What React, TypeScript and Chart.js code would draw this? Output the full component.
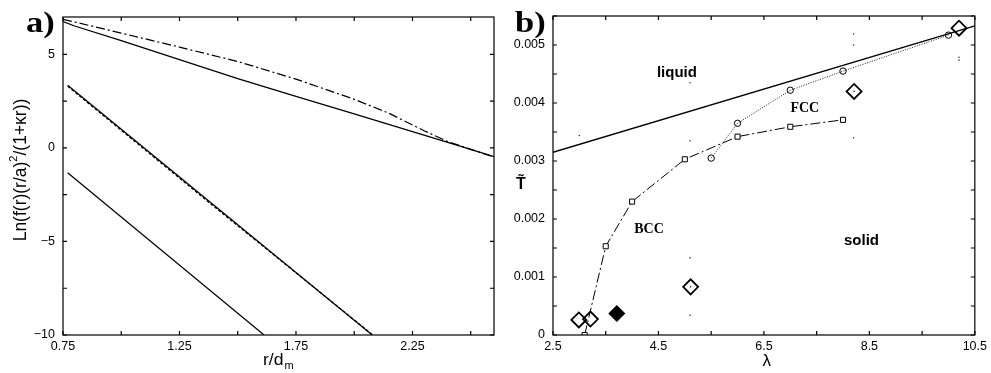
import React, { useEffect, useRef } from 'react';
import { Chart, registerables } from 'chart.js';
Chart.register(...registerables);

// ---------- Panel a data ----------
const aUpperSolidR = [0.75, 0.8, 1.0, 1.25, 1.5, 1.75, 2.0, 2.25, 2.5, 2.6];
const aUpperSolidY = [6.75, 6.52, 5.74, 4.72, 3.71, 2.76, 1.82, 0.87, -0.08, -0.46];
const aDashDotR = [0.75, 1.0, 1.25, 1.5, 1.75, 2.0, 2.15, 2.3, 2.4, 2.5, 2.6];
const aDashDotY = [6.88, 6.14, 5.39, 4.62, 3.68, 2.6, 1.85, 0.92, 0.35, -0.08, -0.48];
const aMidR = [0.77, 2.077];
const aMidY = [3.35, -10];
const aMidDashR = [0.77, 1.4, 2.08];
const aMidDashY = [3.3, -3.15, -10];
const aLowR = [0.77, 1.613];
const aLowY = [-1.33, -10];

// ---------- Panel b data ----------
const meltLam = [2.5, 10.5];
const meltT = [0.00315, 0.00533];
const bccLam = [3.1, 3.5, 4.0, 5.0, 6.0, 7.0, 8.0];
const bccT = [0, 0.00153, 0.0023, 0.00303, 0.00342, 0.00359, 0.00371];
const fccLam = [5.5, 6.0, 7.0, 8.0, 10.0];
const fccT = [0.00305, 0.00365, 0.00422, 0.00455, 0.00517];
const openDiaLam = [2.99, 3.21, 5.11, 8.21, 10.2];
const openDiaT = [0.00026, 0.000275, 0.00083, 0.0042, 0.00529];
const filledDiaLam = [3.71];
const filledDiaT = [0.00037];
const dotLam = [3.0, 5.1, 5.1, 5.1, 5.1, 5.11, 8.2, 8.2, 8.2, 8.21, 10.2, 10.2];
const dotT = [0.00344, 0.00435, 0.00335, 0.00133, 0.00034, 0.00083, 0.00519, 0.005, 0.0034, 0.0042, 0.00479, 0.00474];

// tick labels
const aXLabels = ['0.75', '1.25', '1.75', '2.25'];
const aYLabels = ['\u221210', '\u22125', '0', '5'];
const bXLabels = ['2.5', '4.5', '6.5', '8.5', '10.5'];
const bYLabels = ['0', '0.001', '0.002', '0.003', '0.004', '0.005'];

const zip = (xs: number[], ys: number[]) => xs.map((x, i) => ({ x, y: ys[i] }));

const SANS = '"Liberation Sans", Arial, Helvetica, sans-serif';
const SERIF = '"Liberation Serif", "Times New Roman", serif';

const framePlugin = {
  id: 'frame',
  afterDatasetsDraw(chart: any) {
    const { ctx, chartArea: a, scales } = chart;
    const L = 4;
    ctx.save();
    ctx.strokeStyle = '#000';
    ctx.lineWidth = 1.2;
    ctx.strokeRect(a.left, a.top, a.right - a.left, a.bottom - a.top);
    ctx.beginPath();
    scales.x.ticks.forEach((t: any) => {
      const p = scales.x.getPixelForValue(t.value);
      ctx.moveTo(p, a.bottom); ctx.lineTo(p, a.bottom - L);
      ctx.moveTo(p, a.top); ctx.lineTo(p, a.top + L);
    });
    scales.y.ticks.forEach((t: any) => {
      const p = scales.y.getPixelForValue(t.value);
      ctx.moveTo(a.left, p); ctx.lineTo(a.left + L, p);
      ctx.moveTo(a.right, p); ctx.lineTo(a.right - L, p);
    });
    ctx.stroke();
    ctx.restore();
  },
};

type Txt = { t: string; x: number; y: number; font: string; align?: CanvasTextAlign; sx?: number; data?: boolean; rot?: number };

const textPlugin = (items: Txt[], extra?: (ctx: CanvasRenderingContext2D, chart: any) => void) => ({
  id: 'texts',
  afterDraw(chart: any) {
    const { ctx, scales } = chart;
    ctx.save();
    ctx.fillStyle = '#000';
    ctx.textBaseline = 'alphabetic';
    items.forEach((it) => {
      let x = it.x, y = it.y;
      if (it.data) { x = scales.x.getPixelForValue(it.x); y = scales.y.getPixelForValue(it.y); }
      ctx.save();
      ctx.font = it.font;
      ctx.textAlign = it.align || 'left';
      ctx.translate(x, y);
      if (it.rot) ctx.rotate(it.rot);
      ctx.scale(it.sx || 1, 1);
      ctx.fillText(it.t, 0, 0);
      ctx.restore();
    });
    if (extra) extra(ctx, chart);
    ctx.restore();
  },
});

const labelFrom = (labels: string[], vals: number[]) => (v: number) => {
  for (let i = 0; i < vals.length; i++) if (Math.abs(v - vals[i]) < 1e-9) return labels[i];
  return '';
};

function PanelA() {
  const ref = useRef<HTMLCanvasElement>(null);
  useEffect(() => {
    const line = (d: any[], dash: number[] = []) => ({
      data: d, showLine: true, borderColor: '#000', borderWidth: 1.25, borderDash: dash,
      pointRadius: 0, tension: 0, fill: false,
    });
    const chart = new Chart(ref.current!, {
      type: 'scatter',
      data: {
        datasets: [
          line(zip(aDashDotR, aDashDotY), [9, 3, 2, 3]),
          line(zip(aUpperSolidR, aUpperSolidY)),
          line(zip(aMidR, aMidY)),
          line(zip(aMidDashR, aMidDashY), [3, 2]),
          line(zip(aLowR, aLowY)),
        ],
      },
      options: {
        animation: false, responsive: false, events: [],
        layout: { padding: { top: 17, right: 2, left: 0, bottom: 0 } },
        plugins: { legend: { display: false }, tooltip: { enabled: false } },
        scales: {
          x: {
            type: 'linear', min: 0.75, max: 2.6,
            grid: { display: false, drawTicks: false }, border: { display: false },
            ticks: { stepSize: 0.25, includeBounds: false, autoSkip: false, maxRotation: 0, padding: 4, color: '#000',
              font: { family: SANS, size: 12.5 }, callback: labelFrom(aXLabels, [0.75, 1.25, 1.75, 2.25]) as any },
            afterFit: (s: any) => { s.height = 38; },
          },
          y: {
            type: 'linear', min: -10, max: 7,
            grid: { display: false, drawTicks: false }, border: { display: false },
            ticks: { stepSize: 2.5, includeBounds: false, autoSkip: false, padding: 8, color: '#000',
              font: { family: SANS, size: 12.5 }, callback: labelFrom(aYLabels, [-10, -5, 0, 5]) as any },
            afterFit: (s: any) => { s.width = 63; },
          },
        },
      },
      plugins: [
        framePlugin,
        textPlugin(
          [
            { t: 'a)', x: 26, y: 32, font: `bold 30px ${SERIF}`, sx: 1.15 },
            { t: 'r/d', x: 263, y: 365, font: `16px ${SANS}`, sx: 1.1 },
            { t: 'm', x: 284.5, y: 369, font: `10px ${SANS}`, sx: 1.1 },
          ],
          (ctx) => {
            // rotated y title with superscript
            ctx.save();
            ctx.translate(26, 170);
            ctx.rotate(-Math.PI / 2);
            const p1 = 'Ln(f(r)(r/a)';
            const p2 = '2';
            const p3 = '/(1+\u03BAr))';
            const f1 = `17.5px ${SANS}`, f2 = `11px ${SANS}`;
            ctx.font = f1; const w1 = ctx.measureText(p1).width; const w3 = ctx.measureText(p3).width;
            ctx.font = f2; const w2 = ctx.measureText(p2).width;
            const tot = w1 + w2 + w3;
            let x0 = -tot / 2;
            ctx.textAlign = 'left';
            ctx.font = f1; ctx.fillText(p1, x0, 0); x0 += w1;
            ctx.font = f2; ctx.fillText(p2, x0, -9); x0 += w2;
            ctx.font = f1; ctx.fillText(p3, x0, 0);
            ctx.restore();
          }
        ),
      ],
    } as any);
    return () => chart.destroy();
  }, []);
  return <canvas ref={ref} width={496} height={373} style={{ position: 'absolute', left: 0, top: 0, width: 496, height: 373 }} />;
}

function PanelB() {
  const ref = useRef<HTMLCanvasElement>(null);
  useEffect(() => {
    const chart = new Chart(ref.current!, {
      type: 'scatter',
      data: {
        datasets: [
          { data: zip(meltLam, meltT), showLine: true, borderColor: '#000', borderWidth: 1.3, pointRadius: 0 },
          { data: zip(bccLam, bccT), showLine: true, borderColor: '#000', borderWidth: 1, borderDash: [10, 3, 2, 3],
            pointStyle: 'rect', pointRadius: 3.6, pointBorderWidth: 1, pointBorderColor: '#000', pointBackgroundColor: '#fff' },
          { data: zip(fccLam, fccT), showLine: true, borderColor: '#000', borderWidth: 0.9, borderDash: [1, 1.5],
            pointStyle: 'circle', pointRadius: 3.2, pointBorderWidth: 1, pointBorderColor: '#000', pointBackgroundColor: 'rgba(255,255,255,0)' },
          { data: zip(openDiaLam, openDiaT), showLine: false, pointStyle: 'rectRot', pointRadius: 7.5,
            pointBorderWidth: 1.8, pointBorderColor: '#000', pointBackgroundColor: 'rgba(255,255,255,0)' },
          { data: zip(filledDiaLam, filledDiaT), showLine: false, pointStyle: 'rectRot', pointRadius: 7.5,
            pointBorderWidth: 1.5, pointBorderColor: '#000', pointBackgroundColor: '#000' },
          { data: zip(dotLam, dotT), showLine: false, pointStyle: 'circle', pointRadius: 0.8,
            pointBorderWidth: 0, pointBackgroundColor: '#333' },
        ],
      },
      options: {
        animation: false, responsive: false, events: [],
        layout: { padding: { top: 16, right: 12, left: 0, bottom: 0 } },
        plugins: { legend: { display: false }, tooltip: { enabled: false } },
        scales: {
          x: {
            type: 'linear', min: 2.5, max: 10.5,
            grid: { display: false, drawTicks: false }, border: { display: false },
            ticks: { stepSize: 1, autoSkip: false, maxRotation: 0, padding: 4, color: '#000',
              font: { family: SANS, size: 12.5 }, callback: labelFrom(bXLabels, [2.5, 4.5, 6.5, 8.5, 10.5]) as any },
            afterFit: (s: any) => { s.height = 38; },
          },
          y: {
            type: 'linear', min: 0, max: 0.0055,
            grid: { display: false, drawTicks: false }, border: { display: false },
            ticks: { stepSize: 0.0005, autoSkip: false, padding: 8, color: '#000',
              font: { family: SANS, size: 12.5 }, callback: labelFrom(bYLabels, [0, 0.001, 0.002, 0.003, 0.004, 0.005]) as any },
            afterFit: (s: any) => { s.width = 57; },
          },
        },
      },
      plugins: [
        framePlugin,
        textPlugin([
          { t: 'b)', x: 19, y: 32, font: `bold 30px ${SERIF}`, sx: 1.15 },
          { t: 'liquid', x: 4.85, y: 0.00445, data: true, font: `bold 15px ${SANS}`, align: 'center' },
          { t: 'solid', x: 8.35, y: 0.00156, data: true, font: `bold 15px ${SANS}`, align: 'center' },
          { t: 'FCC', x: 7.275, y: 0.00385, data: true, font: `bold 14px ${SERIF}`, align: 'center' },
          { t: 'BCC', x: 4.32, y: 0.001765, data: true, font: `bold 14px ${SERIF}`, align: 'center' },
          { t: 'T\u0303', x: 25, y: 189, font: `bold 16px ${SANS}`, align: 'center' },
          { t: '\u03BB', x: 270.7, y: 366, font: `17px ${SANS}`, align: 'center' },
        ]),
      ],
    } as any);
    return () => chart.destroy();
  }, []);
  return <canvas ref={ref} width={495} height={373} style={{ position: 'absolute', left: 496, top: 0, width: 495, height: 373 }} />;
}

export default function App() {
  return (
    <div style={{ position: 'absolute', left: 0, top: 0, width: 991, height: 373, background: '#fff' }}>
      <PanelA />
      <PanelB />
    </div>
  );
}
